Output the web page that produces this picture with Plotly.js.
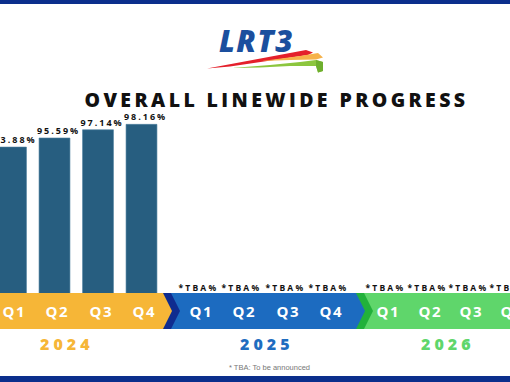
<!DOCTYPE html>
<html><head><meta charset="utf-8">
<script src="https://cdn.plot.ly/plotly-3.0.1.min.js"></script>
<style>
html,body{margin:0;padding:0;background:#fff;}
#chart{width:510px;height:382px;}
#chart text.bartext{letter-spacing:2px;}
</style></head><body><div id="chart"></div>
<script>
// ---- data ----
const years = ["2024", "2025", "2026"];
const quarters = ["Q1", "Q2", "Q3", "Q4"];
const progress2024 = [93.88, 95.59, 97.14, 98.16];
const progressLabels2024 = ["93.88%", "95.59%", "97.14%", "98.16%"];
const tbaLabel = "*TBA%";
const chartTitle = "OVERALL LINEWIDE PROGRESS";
const footnote = "* TBA: To be announced";
const logoText = "LRT3";

// ---- layout helpers ----
const W = 510, H = 382, plotBottom = 293;
const groupStart = [0, 4.3, 8.62];
const groupStep = [1, 1, 0.95];
const yearColors = ["#F6B637", "#1F6DC0", "#5FD66B"];
const yearShift = [-9, 4, 0];
const xMin = -11 / 43.5, xMax = (W - 11) / 43.5;
const X = px => px / W;
const Y = py => (plotBottom - py) / plotBottom;
const dataToPaper = v => (v - xMin) / (xMax - xMin);
const pathPx = pts => pts.map((p, i) => (i ? "L" : "M") + X(p[0]) + "," + Y(p[1])).join(" ") + " Z";
const font = "Open Sans, Lato, sans-serif";
const qPos = (g, i) => groupStart[g] + i * groupStep[g];

const barX = progress2024.map((v, i) => qPos(0, i));

const traces = [{
  type: "bar",
  x: barX,
  y: progress2024,
  text: progressLabels2024,
  textposition: "outside",
  textangle: 0,
  constraintext: "none",
  cliponaxis: false,
  width: 0.71,
  marker: {color: "#275E80", line: {color: "#4C7E9E", width: 0.6}},
  textfont: {family: font, size: 9, color: "#111", weight: 700},
  hoverinfo: "none"
}];

const shapes = [];
const rectPx = (x0, y0, x1, y1, color) => shapes.push({type: "rect", xref: "paper", yref: "paper",
  x0: X(x0), x1: X(x1), y0: Y(y0), y1: Y(y1), fillcolor: color, line: {width: 0}, layer: "above"});
const polyPx = (pts, color) => shapes.push({type: "path", xref: "paper", yref: "paper",
  path: pathPx(pts), fillcolor: color, line: {width: 0}, layer: "above"});

// frame bars
rectPx(0, 0, W, 4, "#0B2E8C");
rectPx(0, 376, W, H, "#0B2E8C");
// quarter band
const bT = 293, bB = 329, bM = 311;
polyPx([[0, bT], [W, bT], [W, bB], [0, bB]], "#5FD66B");
polyPx([[0, bT], [364, bT], [373, bM], [364, bB], [0, bB]], "#22B13B");
polyPx([[0, bT], [356, bT], [365, bM], [356, bB], [0, bB]], "#1C6BC0");
polyPx([[0, bT], [171, bT], [180, bM], [171, bB], [0, bB]], "#0F2C8F");
polyPx([[0, bT], [163, bT], [172, bM], [163, bB], [0, bB]], "#F6B637");
// logo swooshes
polyPx([[207, 68.5], [306, 50], [313, 52.5], [308, 55], [230, 66.5]], "#E4202B");
polyPx([[262, 61], [300, 56], [318, 53], [323, 57.5], [316, 59.5], [290, 60]], "#F6B24A");
polyPx([[232, 68], [270, 65], [300, 62], [316, 60], [323, 62], [323, 71], [318, 72.5], [316, 66], [290, 66], [260, 67.5]], "#8CC63E");
polyPx([[316, 60], [323, 62], [323, 71], [318, 72.5], [316, 66]], "#6EAF2E");

const annotations = [];
const spacing = [];
const ann = (o, ls) => { annotations.push(Object.assign({showarrow: false, xanchor: "center", yanchor: "middle", xref: "paper", yref: "paper"}, o)); spacing.push(ls); };

ann({text: logoText, x: X(256), y: Y(40),
  font: {family: font, size: 30, color: "#1B4F9E", weight: 800, style: "italic"}}, "1.5px");
ann({text: chartTitle, x: X(276), y: Y(99.5),
  font: {family: font, size: 19.5, color: "#111", weight: 800}}, "3.4px");

years.forEach((yr, g) => {
  quarters.forEach((q, i) => {
    ann({text: q, x: dataToPaper(qPos(g, i)), y: Y(bM), xshift: 3,
      font: {family: font, size: 15, color: "#FFFFFF", weight: 700}}, "1.5px");
    if (g > 0) {
      ann({text: tbaLabel, x: dataToPaper(qPos(g, i)), y: Y(287.5),
        font: {family: font, size: 8.5, color: "#111", weight: 700}}, "2.2px");
    }
  });
  ann({text: yr, x: dataToPaper(qPos(g, 0) + 1.5 * groupStep[g]), y: Y(343.5), xshift: yearShift[g],
    font: {family: font, size: 16, color: yearColors[g], weight: 800}}, "4px");
});
ann({text: footnote, x: X(269), y: Y(367),
  font: {family: "Liberation Sans, Arial, sans-serif", size: 7.5, color: "#777"}}, "0px");

const layout = {
  width: W, height: H,
  margin: {l: 0, r: 0, t: 0, b: H - plotBottom, pad: 0},
  paper_bgcolor: "#FFFFFF", plot_bgcolor: "#FFFFFF",
  showlegend: false,
  xaxis: {range: [xMin, xMax], visible: false, fixedrange: true},
  yaxis: {range: [66.4, 66.4 + plotBottom / 5.31], visible: false, fixedrange: true},
  shapes: shapes,
  annotations: annotations
};

Plotly.newPlot("chart", traces, layout, {displayModeBar: false, staticPlot: true}).then(() => {
  document.querySelectorAll("#chart .annotation").forEach((el, i) => {
    const t = el.querySelector("text");
    if (t && spacing[i]) t.style.letterSpacing = spacing[i];
  });
  // nudge bar value labels to sit like the reference (slightly right and lower)
  document.querySelectorAll("#chart text.bartext").forEach(t => {
    t.setAttribute("x", parseFloat(t.getAttribute("x") || 0) + 4);
    t.setAttribute("y", parseFloat(t.getAttribute("y") || 0) + 2);
  });
});
</script></body></html>
